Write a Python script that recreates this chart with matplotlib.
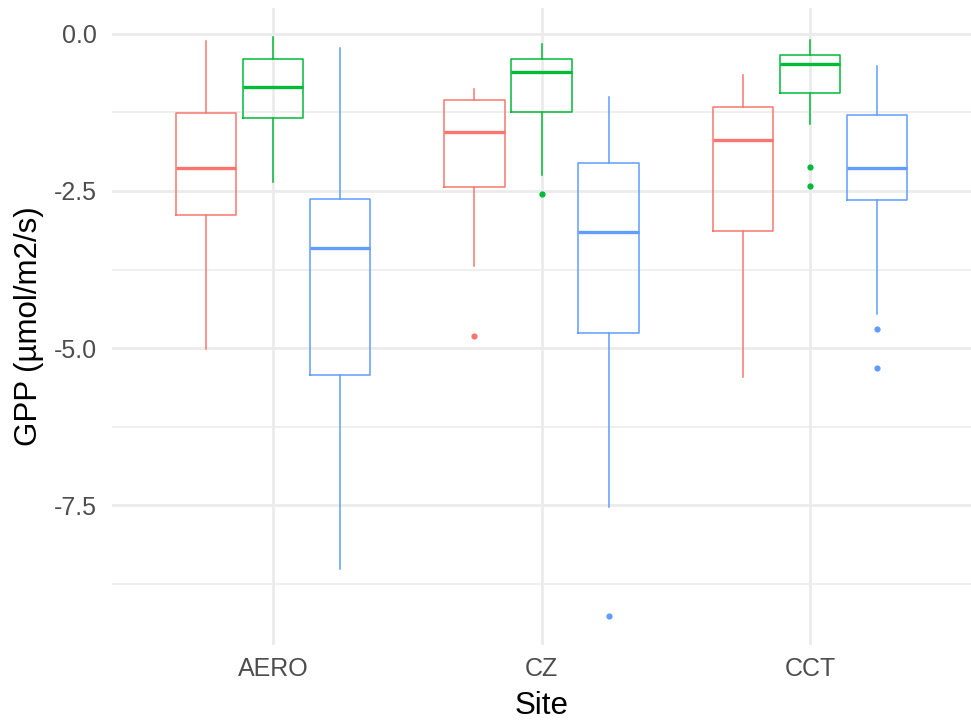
import matplotlib.pyplot as plt
from matplotlib.ticker import MultipleLocator

# === DATA ===
sites = ['AERO', 'CZ', 'CCT']
group_colors = ['#F8766D', '#00BA38', '#619CFF']

# per site, per group: whisker low, q1, median, q3, whisker high
whislo = [[-5.02, -2.36, -8.51], [-3.70, -2.24, -7.53], [-5.46, -1.44, -4.45]]
q1 = [[-2.88, -1.34, -5.43], [-2.44, -1.24, -4.76], [-3.14, -0.94, -2.65]]
med = [[-2.13, -0.85, -3.41], [-1.56, -0.60, -3.16], [-1.69, -0.48, -2.13]]
q3 = [[-1.26, -0.40, -2.62], [-1.05, -0.40, -2.06], [-1.17, -0.33, -1.29]]
whishi = [[-0.12, -0.05, -0.23], [-0.88, -0.17, -1.01], [-0.66, -0.10, -0.51]]
outliers = [[[], [], []],
            [[-4.80], [-2.55], [-9.26]],
            [[], [-2.12, -2.42], [-4.69, -5.31]]]

# === PLOTTING ===
plt.rcParams['font.family'] = ['Liberation Sans', 'DejaVu Sans']

fig = plt.figure(figsize=(9.71, 7.21), dpi=100)
ax = fig.add_axes([112 / 971, 76 / 721, 859 / 971, 637 / 721])

for i in range(len(sites)):
    for j, col in enumerate(group_colors):
        stats = [{
            'whislo': whislo[i][j], 'q1': q1[i][j], 'med': med[i][j],
            'q3': q3[i][j], 'whishi': whishi[i][j], 'fliers': outliers[i][j],
        }]
        ax.bxp(stats, positions=[i + 1 + (j - 1) * 0.25], widths=0.225,
               showcaps=False, patch_artist=False,
               boxprops=dict(color=col, lw=1.1),
               whiskerprops=dict(color=col, lw=1.1),
               medianprops=dict(color=col, lw=2.4, solid_capstyle='butt'),
               flierprops=dict(marker='o', markerfacecolor=col,
                               markeredgecolor=col, markersize=4.5,
                               markeredgewidth=0, linestyle='none'),
               zorder=3)

ax.set_xlim(0.4, 3.6)
ax.set_ylim(-9.72, 0.41)
ax.set_xticks([1, 2, 3])
ax.set_xticklabels(sites)
ax.yaxis.set_major_locator(MultipleLocator(2.5))
ax.yaxis.set_minor_locator(MultipleLocator(1.25))
ax.yaxis.set_major_formatter(plt.FuncFormatter(lambda v, p: f'{v:.1f}'))

ax.grid(which='major', axis='both', color='#EBEBEB', lw=2.0, zorder=0)
ax.grid(which='minor', axis='y', color='#EBEBEB', lw=1.1, zorder=0)
ax.set_axisbelow(True)
for s in ax.spines.values():
    s.set_visible(False)
ax.tick_params(which='both', length=0)
ax.tick_params(axis='y', labelsize=18, labelcolor='#4D4D4D', pad=11)
ax.tick_params(axis='x', labelsize=18, labelcolor='#4D4D4D', pad=9)

ax.set_xlabel('Site', fontsize=22.5, labelpad=7)
ax.set_ylabel('GPP (µmol/m2/s)', fontsize=22.5, labelpad=7)

fig.savefig('out.png', dpi=100)
